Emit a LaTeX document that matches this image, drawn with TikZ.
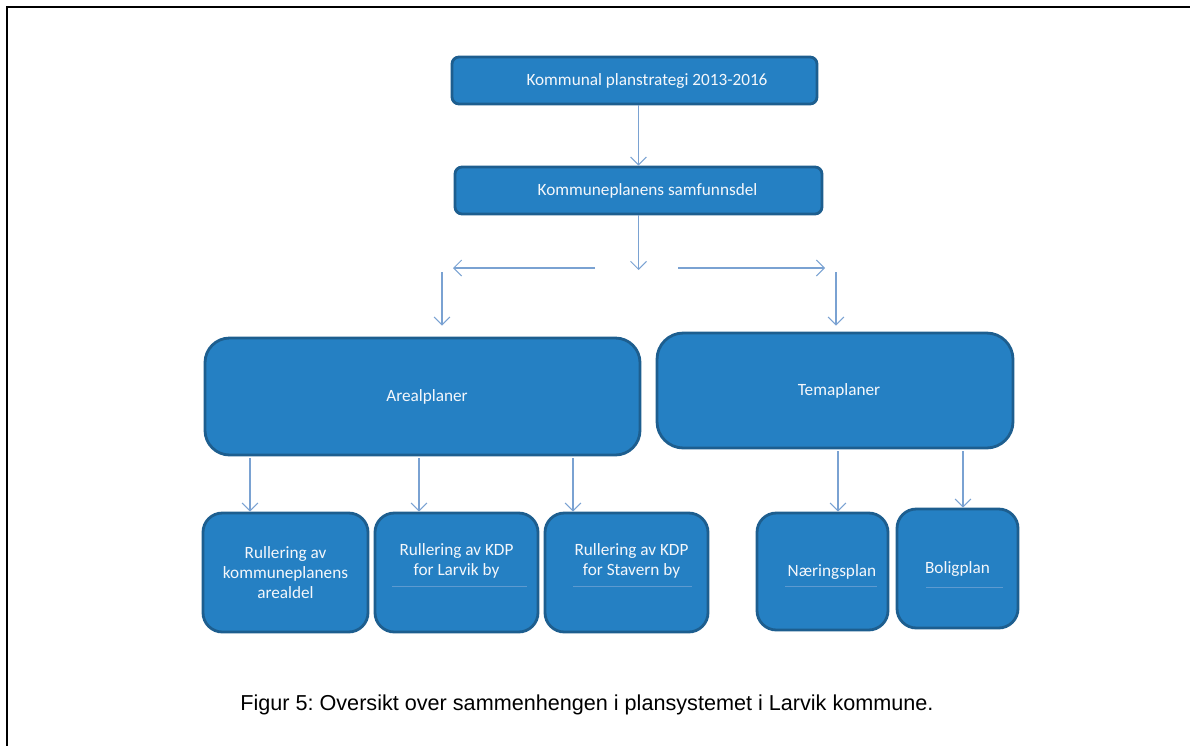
\documentclass[tikz,border=0pt]{standalone}
\usepackage{fontspec}
\setmainfont{Carlito}
\newfontfamily\captionfont{Liberation Sans}
\usetikzlibrary{arrows.meta}
\usepackage{xcolor}
\definecolor{myfill}{HTML}{2580C3}
\definecolor{myborder}{HTML}{1D5E8F}
\definecolor{myarrow}{HTML}{7AA2D2}
\definecolor{mytext}{HTML}{F4F7FB}
\definecolor{myrule}{HTML}{5D9AD0}
\frenchspacing

\begin{document}
\begin{tikzpicture}[
  planbox/.style={draw=myborder, fill=myfill, line width=1.6pt, text=mytext,
    align=center, font=\fontsize{9.8}{11.6}\selectfont, inner sep=0pt},
  arr/.style={myarrow, line width=0.6pt, -{Straight Barb[length=4.5pt, width=9pt]}},
  underline/.style={myrule, line width=0.5pt}
]
\useasboundingbox (0,0) rectangle (23.8,-14.92);

% FRAME
\draw[black, line width=1.7pt] (0.14,-14.92) -- (0.14,-0.14) -- (23.8,-0.14);

% TOP BOXES
\node[planbox, rounded corners=4pt, minimum width=7.3cm, minimum height=0.94cm] (strat) at (12.69,-1.61) {\hspace*{0.5cm}Kommunal planstrategi 2013-2016};
\node[planbox, rounded corners=4pt, minimum width=7.34cm, minimum height=0.94cm] (samf) at (12.77,-3.81) {\hspace*{0.36cm}Kommuneplanens samfunnsdel};

% MIDDLE BOXES
\node[planbox, rounded corners=14pt, minimum width=8.7cm, minimum height=2.34cm] (areal) at (8.45,-7.93) {\hspace*{0.18cm}Arealplaner};
\node[planbox, rounded corners=15pt, minimum width=7.12cm, minimum height=2.3cm] (tema) at (16.7,-7.81) {\hspace*{0.16cm}Temaplaner};

% BOTTOM BOXES
\node[planbox, rounded corners=11pt, minimum width=3.3cm, minimum height=2.38cm] (rull1) at (5.71,-11.45) {Rullering av\\kommuneplanens\\arealdel};
\node[planbox, rounded corners=11pt, minimum width=3.26cm, minimum height=2.38cm] (rull2) at (9.13,-11.45) {Rullering av KDP\\for Larvik by\\\strut};
\node[planbox, rounded corners=11pt, minimum width=3.26cm, minimum height=2.38cm] (rull3) at (12.53,-11.45) {\hspace*{0.2cm}Rullering av KDP\\\hspace*{0.2cm}for Stavern by\\\strut};
\node[planbox, rounded corners=11pt, minimum width=2.62cm, minimum height=2.34cm] (naer) at (16.45,-11.43) {\hspace*{0.38cm}N\ae ringsplan};
\node[planbox, rounded corners=11pt, minimum width=2.42cm, minimum height=2.38cm] (bolig) at (19.15,-11.37) {Boligplan};

\draw[underline] ([xshift=-1.29cm,yshift=-0.28cm]rull2.center) -- ++(2.7,0);
\draw[underline] ([xshift=-1.07cm,yshift=-0.28cm]rull3.center) -- ++(2.38,0);
\draw[underline] ([xshift=-0.75cm,yshift=-0.29cm]naer.center) -- ++(1.84,0);
\draw[underline] ([xshift=-0.63cm,yshift=-0.37cm]bolig.center) -- ++(1.54,0);

% ARROWS
\coordinate (split) at (12.77,-5.40);
\coordinate (lstart) at (11.90,-5.36);
\coordinate (lend) at (9.06,-5.36);
\coordinate (rstart) at (13.56,-5.36);
\coordinate (rend) at (16.50,-5.36);
\coordinate (ldrop) at (8.84,-5.44);
\coordinate (rdrop) at (16.72,-5.44);

\draw[arr] (samf.north |- strat.south) -- (samf.north);
\draw[arr] (samf.south) -- (split);
\draw[arr] (lstart) -- (lend);
\draw[arr] (rstart) -- (rend);
\draw[arr] (ldrop) -- ([yshift=0.22cm]ldrop |- areal.north);
\draw[arr] (rdrop) -- ([yshift=0.12cm]rdrop |- tema.north);

\foreach \x/\child in {5.0/rull1, 8.38/rull2, 11.46/rull3} {
  \coordinate (t) at (\x,0);
  \draw[arr] ([yshift=-0.04cm]t |- areal.south) -- (t |- \child.north);
}
\foreach \x/\child in {16.76/naer, 19.26/bolig} {
  \coordinate (t) at (\x,0);
  \draw[arr] ([yshift=-0.04cm]t |- tema.south) -- (t |- \child.north);
}

% CAPTION
\node[anchor=west, inner sep=0pt, font=\captionfont\fontsize{12.3}{14}\selectfont] (caption) at (4.8,-14.1) {Figur 5: Oversikt over sammenhengen i plansystemet i Larvik kommune.};

\end{tikzpicture}
\end{document}
